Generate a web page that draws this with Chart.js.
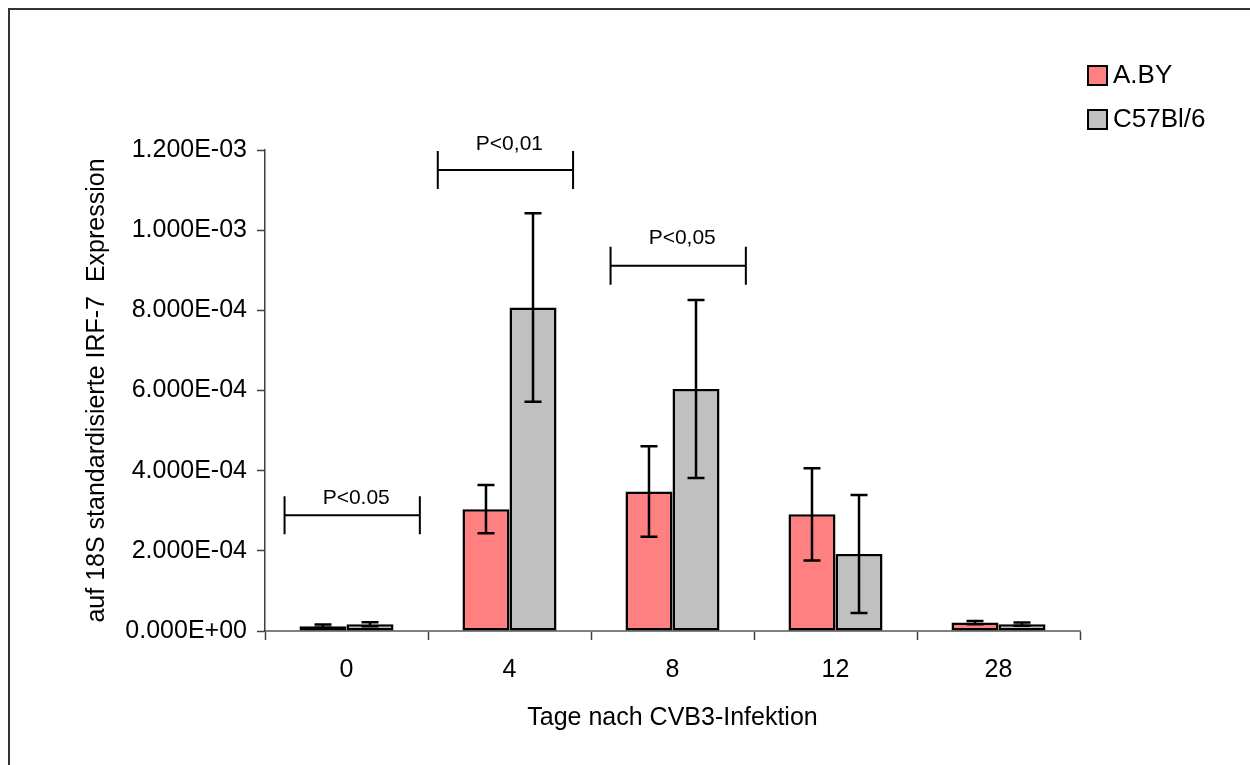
<!DOCTYPE html>
<html>
<head>
<meta charset="utf-8">
<title>IRF-7 Expression</title>
<script src="https://cdn.jsdelivr.net/npm/chart.js@4.4.1/dist/chart.umd.min.js"></script>
<style>
  html, body { margin: 0; padding: 0; background: #fff; }
  #wrap { width: 1250px; height: 765px; position: relative; }
</style>
</head>
<body>
<div id="wrap"><canvas id="irfChart"></canvas></div>
<script>
// days after CVB3 infection
var days = ['0', '4', '8', '12', '28'];
var seriesNames = ['A.BY', 'C57Bl/6'];

// IRF-7 expression normalised to 18S (means)
var abyValues = [1.2e-5, 3.04e-4, 3.48e-4, 2.91e-4, 2.1e-5];
var c57Values = [1.7e-5, 8.07e-4, 6.04e-4, 1.92e-4, 1.7e-5];

// standard deviations
var abyErrors = [4e-6, 6.0e-5, 1.13e-4, 1.15e-4, 4e-6];
var c57Errors = [5e-6, 2.35e-4, 2.22e-4, 1.47e-4, 4e-6];

var yTicks = [0, 2e-4, 4e-4, 6e-4, 8e-4, 1e-3, 1.2e-3];

// significance marks
var pLabels = ['P<0.05', 'P<0,01', 'P<0,05'];
var pDays = ['0', '4', '8'];

// where each bracket sits: offsets in category units, heights in data units
var bracketGeom = [
    { from: -0.38, to: 0.45, y: 2.89e-4, textY: 3.32e-4 },
    { from: -0.44, to: 0.39, y: 1.150e-3, textY: 1.215e-3 },
    { from: -0.38, to: 0.45, y: 9.11e-4, textY: 9.80e-4 }
];

var FONT = "'Liberation Sans', Arial, sans-serif";

function sciLabel(v) {
    var parts = Number(v).toExponential(3).split('e');
    var exp = parseInt(parts[1], 10);
    return parts[0] + 'E' + (exp < 0 ? '-' : '+') + String(Math.abs(exp)).padStart(2, '0');
}

// thin frame along the top and left edge
var framePlugin = {
    id: 'frame',
    beforeDraw: function (chart) {
        var ctx = chart.ctx;
        ctx.save();
        ctx.strokeStyle = '#333';
        ctx.lineWidth = 2;
        ctx.beginPath();
        ctx.moveTo(9, chart.height);
        ctx.lineTo(9, 9);
        ctx.lineTo(chart.width, 9);
        ctx.stroke();
        ctx.restore();
    }
};

// error bars from the sd arrays
var errorBarPlugin = {
    id: 'errorBars',
    afterDatasetsDraw: function (chart) {
        var ctx = chart.ctx;
        var yScale = chart.scales.y;
        var errs = [abyErrors, c57Errors];
        ctx.save();
        ctx.strokeStyle = '#000';
        ctx.lineWidth = 2.5;
        chart.data.datasets.forEach(function (ds, di) {
            var meta = chart.getDatasetMeta(di);
            meta.data.forEach(function (bar, i) {
                var v = ds.data[i];
                var e = errs[di][i];
                var x = bar.x;
                var top = yScale.getPixelForValue(v + e);
                var bot = yScale.getPixelForValue(v - e);
                ctx.beginPath();
                ctx.moveTo(x, top);
                ctx.lineTo(x, bot);
                ctx.moveTo(x - 8.5, top);
                ctx.lineTo(x + 8.5, top);
                ctx.moveTo(x - 8.5, bot);
                ctx.lineTo(x + 8.5, bot);
                ctx.stroke();
            });
        });
        ctx.restore();
    }
};

// significance brackets with their p labels
var bracketPlugin = {
    id: 'brackets',
    afterDraw: function (chart) {
        var ctx = chart.ctx;
        var xs = chart.scales.x;
        var ys = chart.scales.y;
        ctx.save();
        ctx.strokeStyle = '#000';
        ctx.fillStyle = '#000';
        ctx.lineWidth = 2;
        ctx.font = '21px ' + FONT;
        ctx.textAlign = 'center';
        ctx.textBaseline = 'middle';
        pLabels.forEach(function (txt, i) {
            var g = bracketGeom[i];
            var idx = days.indexOf(pDays[i]);
            var x1 = xs.getPixelForValue(idx + g.from);
            var x2 = xs.getPixelForValue(idx + g.to);
            var y = ys.getPixelForValue(g.y);
            ctx.beginPath();
            ctx.moveTo(x1, y);
            ctx.lineTo(x2, y);
            ctx.moveTo(x1, y - 19);
            ctx.lineTo(x1, y + 19);
            ctx.moveTo(x2, y - 19);
            ctx.lineTo(x2, y + 19);
            ctx.stroke();
            ctx.fillText(txt, (x1 + x2) / 2 + 4, ys.getPixelForValue(g.textY));
        });
        ctx.restore();
    }
};

// legend in the top right corner
var legendPlugin = {
    id: 'cornerLegend',
    afterDraw: function (chart) {
        var ctx = chart.ctx;
        ctx.save();
        ctx.font = '26px ' + FONT;
        ctx.textBaseline = 'middle';
        ctx.textAlign = 'left';
        chart.data.datasets.forEach(function (ds, i) {
            var cy = 75 + i * 44;
            ctx.fillStyle = ds.backgroundColor;
            ctx.fillRect(1088, cy - 9, 19, 19);
            ctx.strokeStyle = '#000';
            ctx.lineWidth = 2;
            ctx.strokeRect(1088, cy - 9, 19, 19);
            ctx.fillStyle = '#000';
            ctx.fillText(ds.label, 1113, cy + 1);
        });
        ctx.restore();
    }
};

var ctx = document.getElementById('irfChart').getContext('2d');
var chart = new Chart(ctx, {
    type: 'bar',
    data: {
        labels: days,
        datasets: [{
            label: seriesNames[0],
            data: abyValues,
            backgroundColor: '#FF8080',
            borderColor: '#000',
            borderWidth: 2.5,
            borderSkipped: false
        }, {
            label: seriesNames[1],
            data: c57Values,
            backgroundColor: '#C0C0C0',
            borderColor: '#000',
            borderWidth: 2.5,
            borderSkipped: false
        }]
    },
    options: {
        responsive: true,
        maintainAspectRatio: false,
        animation: false,
        datasets: {
            bar: { categoryPercentage: 0.577, barPercentage: 1.0 }
        },
        layout: {
            padding: { left: 82, top: 150, right: 170, bottom: 0 }
        },
        plugins: {
            legend: { display: false },
            tooltip: { enabled: false }
        },
        scales: {
            x: {
                grid: {
                    offset: true,
                    drawOnChartArea: false,
                    drawTicks: true,
                    tickLength: 9,
                    tickColor: '#404040',
                    tickWidth: 1.5
                },
                border: { color: '#808080', width: 2 },
                ticks: {
                    color: '#000',
                    font: { family: FONT, size: 25 },
                    padding: 15
                },
                title: {
                    display: true,
                    text: 'Tage nach CVB3-Infektion',
                    color: '#000',
                    font: { family: FONT, size: 25 },
                    padding: { top: 4, bottom: 32 }
                },
                afterFit: function (scale) { scale.height = 765 - 631; }
            },
            y: {
                min: 0,
                max: 1.2e-3,
                grid: {
                    drawOnChartArea: false,
                    drawTicks: true,
                    tickLength: 8,
                    tickColor: '#404040',
                    tickWidth: 1.5
                },
                border: { color: '#404040', width: 1.5 },
                afterBuildTicks: function (scale) {
                    scale.ticks = yTicks.map(function (v) { return { value: v }; });
                },
                ticks: {
                    color: '#000',
                    font: { family: FONT, size: 25 },
                    padding: 10,
                    callback: function (v) { return sciLabel(v); }
                },
                title: {
                    display: true,
                    text: 'auf 18S standardisierte IRF-7  Expression',
                    color: '#000',
                    font: { family: FONT, size: 25 },
                    padding: { top: 0, bottom: 0 }
                },
                afterFit: function (scale) { scale.width = 265 - 82; }
            }
        }
    },
    plugins: [framePlugin, errorBarPlugin, bracketPlugin, legendPlugin]
});
</script>
</body>
</html>
